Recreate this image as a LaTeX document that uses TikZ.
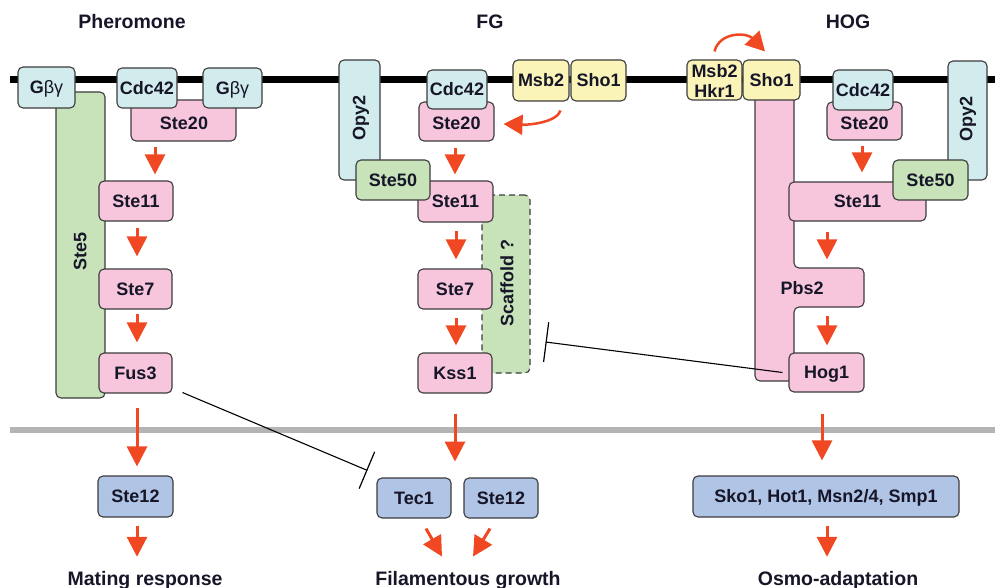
\documentclass[tikz,border=0pt]{standalone}
\usepackage{fontspec}
\setmainfont{Liberation Sans}
\usetikzlibrary{arrows.meta}
\definecolor{pinkc}{RGB}{247,198,221}
\definecolor{cyanc}{RGB}{210,236,238}
\definecolor{greenc}{RGB}{200,227,186}
\definecolor{yellowc}{RGB}{250,244,184}
\definecolor{bluec}{RGB}{176,196,230}
\definecolor{redc}{RGB}{240,72,34}
\definecolor{bordc}{RGB}{60,60,60}
\definecolor{grayc}{RGB}{180,180,180}
\definecolor{txtc}{RGB}{22,22,40}
\newcommand\mybox[7]{\node[#1, minimum width={#5-#3}, minimum height={#6-#4}] (#2) at ({(#3+#5)/2},{(#4+#6)/2}) {#7};}
\tikzset{
  lbl/.style={font=\fontsize{18}{20}\selectfont\bfseries, text=txtc, inner sep=0pt, text height=12.9pt, text depth=0pt},
  box/.style={lbl, draw=bordc, line width=1.1pt, rounded corners=5pt},
  pinkbox/.style={box, fill=pinkc},
  cyanbox/.style={box, fill=cyanc},
  greenbox/.style={box, fill=greenc},
  yellowbox/.style={box, fill=yellowc},
  bluebox/.style={box, fill=bluec},
  scafbox/.style={box, fill=greenc, dash pattern=on 6pt off 4pt},
  title/.style={font=\fontsize{19.5}{22}\selectfont\bfseries, text=txtc, inner sep=0pt, text height=14pt, text depth=0pt},
  redarr/.style={draw=redc, line width=3pt, -{Triangle[length=20pt,width=20pt]}},
  redcurve/.style={draw=redc, line width=2.5pt, -{Triangle[length=19pt,width=20pt]}},
  inhib/.style={draw=black, line width=1.1pt, -{Bar[width=40pt,line width=1.2pt]}}
}
\begin{document}
\begin{tikzpicture}[x=1pt,y=-1pt]
\useasboundingbox (0,0) rectangle (995,588);
% membranes
\draw[line width=7pt] (10,80) -- (995,80);
\draw[line width=6pt, draw=grayc] (10,430) -- (995,430);
% titles
\node[title] (tP) at (132,22) {Pheromone};
\node[title] (tF) at (490,22) {FG};
\node[title] (tH) at (848,22) {HOG};
% ---------------- Pheromone
\mybox{greenbox}{pSte5}{56}{92}{105}{398}{}
\node[lbl,rotate=90] (pSte5t) at (80,251) {Ste5};
\mybox{cyanbox}{pGbL}{18}{67}{75}{108}{G{\mdseries βγ}}
\mybox{pinkbox}{pSte20}{131}{100}{236}{141}{}
\node[lbl] (pSte20t) at (184,123) {Ste20};
\mybox{cyanbox}{pCdc}{117}{68}{177}{108}{Cdc42}
\mybox{cyanbox}{pGbR}{203}{68}{262}{108}{G{\mdseries βγ}}
\mybox{pinkbox}{pSte11}{99}{181}{173}{221}{Ste11}
\mybox{pinkbox}{pSte7}{99}{269}{172}{309}{Ste7}
\mybox{pinkbox}{pFus}{99}{353}{172}{393}{Fus3}
\mybox{bluebox}{pSte12}{98}{476}{173}{517}{Ste12}
\node[title] (pOut) at (145,578) {Mating response};
% ---------------- FG
\mybox{cyanbox}{fOpy}{339}{60}{380}{180}{}
\node[lbl,rotate=90] (fOpyt) at (359,118) {Opy2};
\mybox{pinkbox}{fSte20}{419}{102}{494}{141}{}
\node[lbl] (fSte20t) at (456.5,123) {Ste20};
\mybox{cyanbox}{fCdc}{427}{70}{487}{109}{Cdc42}
\mybox{scafbox}{fScaf}{482}{195}{530}{373}{}
\node[lbl,rotate=90] (fScaft) at (507,283) {Scaffold ?};
\mybox{pinkbox}{fSte11}{418}{181}{493}{222}{Ste11}
\mybox{greenbox}{fSte50}{356}{160}{430}{200}{Ste50}
\mybox{pinkbox}{fSte7}{418}{269}{492}{309}{Ste7}
\mybox{pinkbox}{fKss}{418}{353}{492}{393}{Kss1}
\mybox{yellowbox}{fMsb}{513}{60}{569}{101}{Msb2}
\mybox{yellowbox}{fSho}{571}{60}{626}{101}{Sho1}
\mybox{bluebox}{fTec}{377}{478}{451}{518}{Tec1}
\mybox{bluebox}{fSte12}{464}{478}{538}{518}{Ste12}
\node[title] (fOut) at (468,578) {Filamentous growth};
% ---------------- HOG
\path[draw=bordc, fill=pinkc, line width=1.1pt, rounded corners=5pt]
  (755,90) -- (755,381) -- (794,381) -- (794,307) -- (864,307) -- (864,268) -- (794,268) -- (794,90) -- cycle;
\node[lbl] (hPbs) at (802,288) {Pbs2};
\mybox{yellowbox}{hMsb}{687}{60}{742}{100}{}
\node[font=\fontsize{18}{20}\selectfont\bfseries, text=txtc, inner sep=0pt, align=center] (hMsbt) at (714.5,81) {Msb2\\Hkr1};
\mybox{yellowbox}{hSho}{743}{60}{800}{100}{Sho1}
\mybox{pinkbox}{hSte20}{827}{102}{902}{140}{}
\node[lbl] (hSte20t) at (864.5,123) {Ste20};
\mybox{cyanbox}{hCdc}{833}{70}{893}{110}{Cdc42}
\mybox{cyanbox}{hOpy}{948}{61}{987}{180}{}
\node[lbl,rotate=90] (hOpyt) at (966,119) {Opy2};
\mybox{pinkbox}{hSte11}{789}{182}{926}{221}{Ste11}
\mybox{greenbox}{hSte50}{893}{160}{968}{200}{Ste50}
\mybox{pinkbox}{hHog}{789}{353}{864}{392}{Hog1}
\mybox{bluebox}{hSko}{693}{476}{959}{517}{Sko1, Hot1, Msn2/4, Smp1}
\node[title] (hOut) at (838,578) {Osmo-adaptation};
% ---------------- red arrows, Pheromone
\draw[redarr] ([xshift=-28.5pt,yshift=-5pt]pSte20.south) -- ([xshift=19pt,yshift=6pt]pSte11.north);
\draw[redarr] ([xshift=1pt,yshift=-6pt]pSte11.south) -- ([xshift=1.5pt,yshift=12pt]pSte7.north);
\draw[redarr] ([xshift=1.5pt,yshift=-4pt]pSte7.south) -- ([xshift=1.5pt,yshift=10pt]pFus.north);
\draw[redarr] ([xshift=1.5pt,yshift=-14pt]pFus.south) -- ([xshift=1.5pt,yshift=9pt]pSte12.north);
\draw[redarr] ([xshift=1.5pt,yshift=-8pt]pSte12.south) -- ([xshift=-8pt,yshift=14pt]pOut.north);
% FG
\draw[redarr] ([xshift=-1.5pt,yshift=-6pt]fSte20.south) -- ([xshift=-0.5pt,yshift=6pt]fSte11.north);
\draw[redarr] ([xshift=0.5pt,yshift=-8pt]fSte11.south) -- ([xshift=1pt,yshift=9pt]fSte7.north);
\draw[redarr] ([xshift=1pt,yshift=-8pt]fSte7.south) -- ([xshift=1pt,yshift=7pt]fKss.north);
\draw[redarr] ([xshift=0pt,yshift=-20pt]fKss.south) -- ([xshift=0pt,yshift=-68pt]fKss.south);
\draw[redarr] ([xshift=12pt,yshift=-10pt]fTec.south) -- ([xshift=28pt,yshift=-38pt]fTec.south);
\draw[redarr] ([xshift=-11pt,yshift=-10pt]fSte12.south) -- ([xshift=-28pt,yshift=-38pt]fSte12.south);
\draw[redcurve] ([xshift=-9pt,yshift=-9pt]fMsb.south east) .. controls +(-4,12) and +(25,1) .. ([xshift=9pt,yshift=-2.5pt]fSte20.east);
% HOG
\draw[redcurve] ([yshift=8pt]hMsb.north) .. controls +(5,-20) and +(-18,-19) .. ([xshift=-6.5pt,yshift=8pt]hSho.north);
\draw[redarr] ([xshift=-2.5pt,yshift=-5pt]hSte20.south) -- ([xshift=4.5pt,yshift=9pt]hSte11.north);
\draw[redarr] ([xshift=-30.5pt,yshift=-10pt]hSte11.south) -- ([xshift=0.5pt,yshift=93pt]hHog.north);
\draw[redarr] ([xshift=0.5pt,yshift=36pt]hHog.north) -- ([xshift=0.5pt,yshift=7pt]hHog.north);
\draw[redarr] ([xshift=-4.5pt,yshift=-21pt]hHog.south) -- ([xshift=-4pt,yshift=15pt]hSko.north);
\draw[redarr] ([xshift=1pt,yshift=-8pt]hSko.south) -- ([xshift=-11pt,yshift=14pt]hOut.north);
% inhibition
\draw[inhib] ([xshift=10pt,yshift=1pt]pFus.south east) -- ([xshift=-9pt,yshift=7pt]fTec.north west);
\draw[inhib] ([xshift=-6pt]hHog.west) -- ([xshift=15pt,yshift=-58pt]fScaf.east);
\end{tikzpicture}
\end{document}
